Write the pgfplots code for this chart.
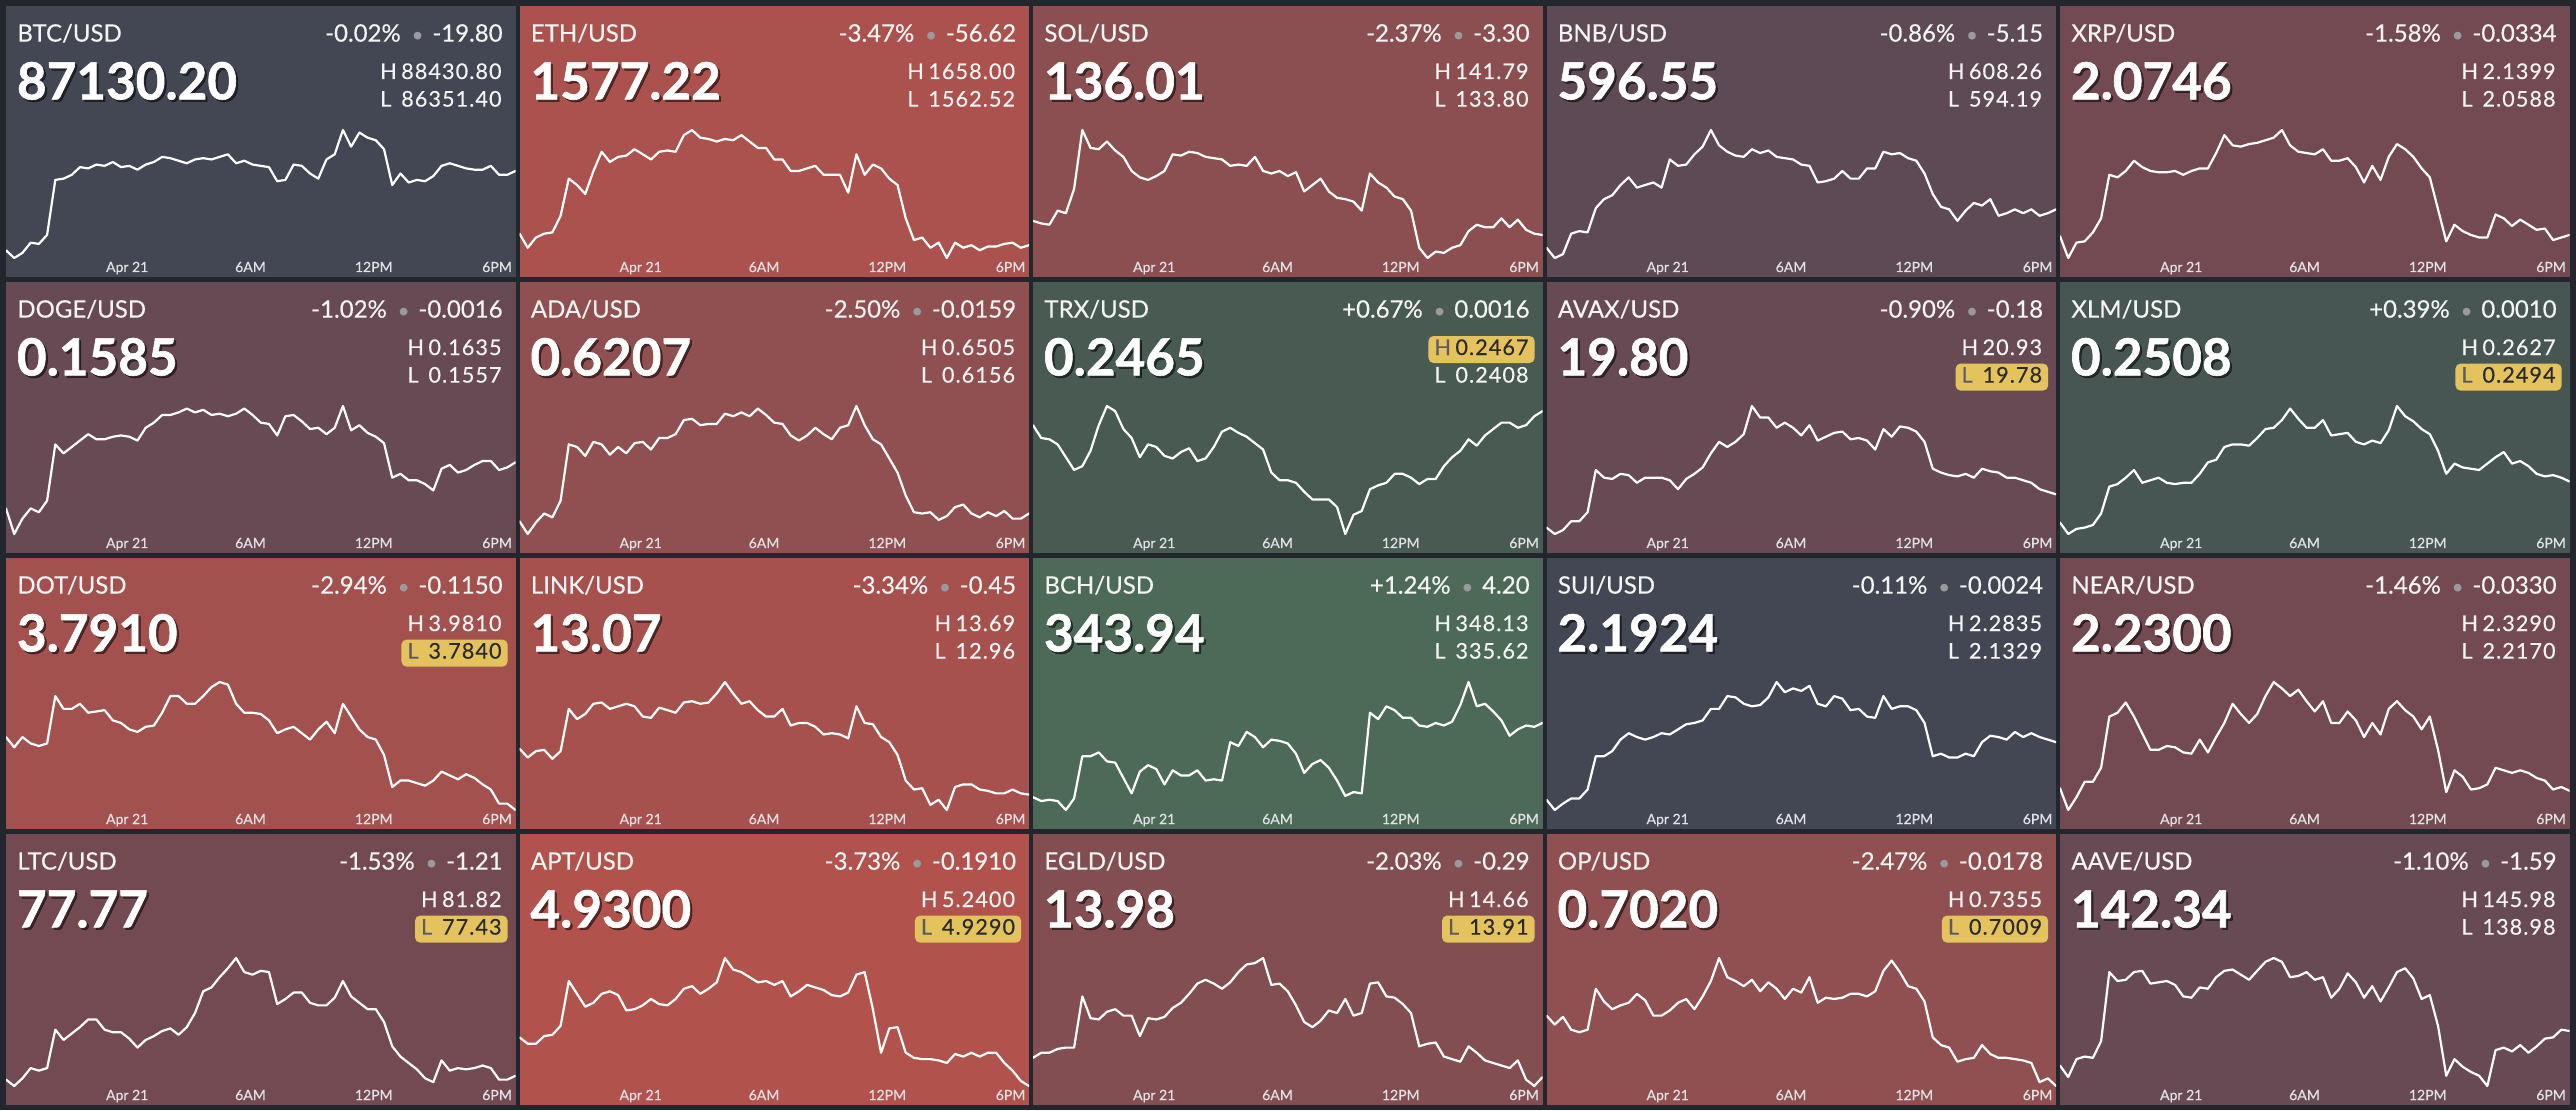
\documentclass[border=0pt]{standalone}
\usepackage{pgfplots}
\pgfplotsset{compat=1.18}
\usepackage{pgfplotstable}
\usepackage{fontspec}
\setmainfont{Lato}
\newfontfamily\latoM{Lato}[FakeBold=0.35]
\newfontfamily\latoHL{Lato}[FakeBold=0.35, LetterSpace=5]
\newfontfamily\latoB{Lato}[FakeBold=1.1]

\definecolor{pagebg}{HTML}{23262C}
\definecolor{txt}{HTML}{F4F4F4}
\definecolor{tickc}{HTML}{E2E2E6}
\definecolor{dotc}{HTML}{9A9A9E}
\definecolor{hlbg}{HTML}{E4C35E}
\definecolor{hltxt}{HTML}{2A2A2A}
\definecolor{hlletter}{HTML}{5A5A60}
\definecolor{cBTC}{HTML}{434753}
\definecolor{cETH}{HTML}{AB524E}
\definecolor{cSOL}{HTML}{8B4F51}
\definecolor{cBNB}{HTML}{5D4A55}
\definecolor{cXRP}{HTML}{744A52}
\definecolor{cDOGE}{HTML}{684A54}
\definecolor{cADA}{HTML}{904F51}
\definecolor{cTRX}{HTML}{485A52}
\definecolor{cAVAX}{HTML}{684A54}
\definecolor{cXLM}{HTML}{475652}
\definecolor{cDOT}{HTML}{A2514F}
\definecolor{cLINK}{HTML}{A6514E}
\definecolor{cBCH}{HTML}{4D6A58}
\definecolor{cSUI}{HTML}{434753}
\definecolor{cNEAR}{HTML}{744A52}
\definecolor{cLTC}{HTML}{744A52}
\definecolor{cAPT}{HTML}{B2524C}
\definecolor{cEGLD}{HTML}{824E52}
\definecolor{cOP}{HTML}{904F51}
\definecolor{cAAVE}{HTML}{684A54}

% one row per series (normalised price position, 0 = window low, 100 = window high); t = hours from Apr 21 00:00
\pgfplotstableread[header=false]{
t -5.9 -5.5 -5.1 -4.7 -4.3 -3.9 -3.5 -3.1 -2.7 -2.3 -1.9 -1.5 -1.1 -0.7 -0.3 0.1 0.5 0.9 1.3 1.7 2.1 2.5 2.9 3.3 3.7 4.1 4.5 4.9 5.3 5.7 6.1 6.5 6.9 7.3 7.7 8.1 8.5 8.9 9.3 9.7 10.1 10.5 10.9 11.3 11.7 12.1 12.5 12.9 13.3 13.7 14.1 14.5 14.9 15.3 15.7 16.1 16.5 16.9 17.3 17.7 18.1 18.5 18.9
btc 6 0 4 12 11 18 61 62 65 71 70 73 72 75 71 72 69 73 75 79 78 76 74 77 78 77 79 81 74 76 73 72 71 60 61 73 72 66 62 77 81 100 87 98 94 92 85 57 66 59 61 60 64 72 74 72 70 69 69 72 65 65 68
eth 19 8 16 19 20 33 62 57 50 68 83 75 79 80 85 81 77 83 84 83 96 100 94 93 91 93 92 96 91 86 86 77 77 68 68 70 72 65 65 65 51 81 65 73 70 62 57 31 14 16 8 12 0 12 8 10 6 9 9 11 12 8 10
sol 29 27 26 37 35 54 100 86 85 91 84 79 68 63 61 64 68 81 80 83 82 79 78 77 72 73 72 79 68 66 68 64 67 52 57 62 52 47 46 44 37 66 59 55 48 46 37 8 0 5 4 8 10 21 26 24 24 31 24 30 22 19 18
bnb 8 0 3 19 21 20 39 46 49 57 63 55 57 59 55 77 72 73 81 87 100 88 83 80 79 85 82 84 79 78 77 73 72 59 60 62 68 62 62 70 70 83 81 82 78 76 66 50 40 38 29 37 43 41 46 33 35 38 35 38 33 35 38
xrp 17 0 12 13 20 31 65 63 68 76 71 68 67 67 68 65 68 70 70 82 96 88 87 89 90 92 94 100 88 83 82 81 85 76 76 78 71 59 72 61 79 89 85 79 70 63 38 13 26 21 18 16 16 34 31 25 30 26 22 23 14 16 18
doge 20 0 12 20 17 26 70 63 68 73 78 74 74 76 77 76 73 83 87 93 93 95 98 95 97 93 94 92 94 98 93 87 86 77 92 93 88 82 83 78 83 100 81 85 79 76 71 44 47 42 42 39 34 51 54 48 50 54 57 57 50 52 56
ada 10 0 9 16 13 26 70 68 61 72 70 62 68 63 71 72 66 75 75 78 89 90 85 86 86 94 92 95 92 98 93 87 86 77 73 77 83 78 74 83 85 100 85 74 70 59 48 30 17 16 17 11 14 21 23 16 13 17 14 18 12 12 16
trx 85 75 74 70 60 50 53 65 85 100 96 82 75 60 70 68 61 59 64 67 57 59 68 80 83 79 76 71 66 48 42 42 40 33 27 27 27 21 0 15 18 35 38 40 47 47 44 39 43 43 53 60 65 74 69 77 82 87 87 83 85 92 96
avax 5 0 3 10 10 17 50 44 43 47 46 40 44 44 44 42 35 43 47 52 63 72 68 72 78 100 91 91 83 87 83 77 85 73 76 79 80 74 75 73 66 82 76 84 83 80 72 51 48 46 45 47 44 51 49 48 44 44 42 40 35 33 31
xlm 9 0 4 5 7 16 37 39 44 50 40 42 44 40 39 40 40 47 56 58 68 70 70 69 75 82 83 89 98 90 83 83 89 77 78 79 72 70 73 71 81 100 92 88 82 78 65 47 55 52 51 50 55 60 64 55 57 53 47 45 46 44 41
dot 57 49 57 52 50 52 89 79 79 83 76 77 78 70 68 63 61 65 66 76 89 89 83 83 89 96 100 98 83 76 76 75 70 60 63 65 60 55 63 69 60 83 73 63 57 55 43 18 23 23 21 19 23 30 27 24 28 25 20 16 5 5 0
link 48 41 46 47 40 46 79 71 75 83 84 79 81 83 81 73 72 80 78 76 84 85 83 84 91 100 91 83 85 78 73 73 79 66 68 68 65 59 60 59 56 81 68 67 57 53 43 23 16 17 4 8 0 18 20 20 16 15 13 13 16 13 12
bch 10 7 8 7 0 9 42 42 45 38 37 25 13 30 35 32 20 31 27 27 31 23 24 23 53 50 61 57 49 55 54 52 44 29 36 39 33 23 11 14 13 76 71 81 78 72 72 66 65 68 66 69 82 100 81 83 77 70 58 63 66 65 68
sui 8 0 5 9 9 16 42 42 46 55 60 57 55 57 60 59 63 67 68 70 79 79 89 88 83 81 82 88 100 92 95 93 97 83 81 89 87 78 79 73 72 89 79 81 81 78 68 42 44 41 41 44 42 53 58 57 55 61 57 60 57 55 53
near 17 0 10 22 22 33 73 76 84 73 60 47 47 50 49 45 44 55 45 57 68 83 75 68 75 89 100 95 89 94 85 77 85 68 68 77 70 57 68 59 79 85 78 73 63 73 47 14 31 26 16 17 20 33 31 29 31 29 25 23 16 18 15
ltc 5 0 6 14 12 14 44 36 41 46 52 52 44 42 42 37 30 36 39 43 45 40 46 57 74 77 85 92 100 89 87 90 89 64 68 73 73 65 63 63 69 82 70 65 60 60 50 31 23 18 13 6 3 20 12 14 13 14 16 14 5 5 8
apt 38 33 33 39 40 47 82 72 62 65 72 74 71 59 60 63 68 64 63 68 76 78 72 76 81 100 91 89 85 81 82 79 82 70 74 79 77 75 71 70 73 87 89 60 26 45 46 26 22 21 21 20 18 25 23 26 23 26 26 18 12 4 0
egld 22 26 26 29 30 30 70 53 52 58 60 55 55 39 53 52 54 61 65 72 80 83 80 76 81 89 95 96 100 79 80 74 63 50 46 51 59 57 68 55 57 80 81 70 69 64 57 31 33 34 23 21 19 31 26 20 18 16 14 20 5 0 7
op 55 48 54 44 42 44 76 66 60 63 65 72 67 55 55 59 65 68 60 70 82 100 85 82 78 83 74 81 76 68 76 73 85 65 69 68 69 72 72 70 74 90 98 89 78 76 66 38 32 30 19 21 22 32 25 22 22 21 20 18 3 6 0
aave 16 7 21 23 22 35 89 82 83 89 90 80 81 82 79 70 69 77 76 85 90 91 87 83 90 97 100 97 85 86 89 83 85 69 76 88 81 69 78 66 77 89 92 84 68 71 47 8 21 15 11 8 0 28 30 27 32 26 31 37 38 44 43
}\rawdata
\pgfplotstabletranspose[colnames from=0]{\data}{\rawdata}

\pgfplotsset{
  cell/.style={
    width=254.75pt, height=135.5pt, scale only axis, anchor=south west,
    xmin=-5.9, xmax=18.9, ymin=-14.84, ymax=196.875,
    axis line style={draw=none}, ytick=\empty,
    xtick={0,6,12,18}, xticklabels={Apr 21,6AM,12PM,6PM},
    major tick length=0pt, xtick style={draw=none},
    xticklabel style={font=\latoM\fontsize{7}{8}\selectfont, text=tickc, anchor=base, yshift=2.5pt, inner sep=0pt},
  },
  spark/.style={white, line width=1.1pt, line join=round, line cap=round, mark=none},
}
\tikzset{
  hlb/.style={anchor=base east, inner xsep=3pt, inner ysep=0pt, text height=9.5pt, text depth=4pt,
    font=\latoHL\fontsize{10.8}{12}\selectfont, rounded corners=2.5pt},
  plain/.style={hlb, text=txt, /utils/exec={\def\lc{txt}}},
  hl/.style={hlb, fill=hlbg, text=hltxt, /utils/exec={\def\lc{hlletter}}},
}
\newcommand\Top[4]{%
  \node[anchor=base west, font=\latoM\fontsize{12}{14}\selectfont, text=txt, inner sep=0pt]
    at ([xshift=5.5pt,yshift=-17.8pt]#1.north west) {#2};
  \node[anchor=base east, font=\latoM\fontsize{12}{14}\selectfont, text=txt, inner sep=0pt]
    at ([xshift=248.5pt,yshift=-17.8pt]#1.north west)
    {#3\hspace{5.5pt}{\fontsize{10}{10}\selectfont\textcolor{dotc}{\textbullet}}\hspace{4.5pt}#4};
}
\newcommand\Price[2]{%
  \node[anchor=base west, font=\latoB\fontsize{25.6}{28}\selectfont\bfseries, text=black, text opacity=0.5, inner sep=0pt]
    at ([xshift=6.4pt,yshift=-47.8pt]#1.north west) {#2};
  \node[anchor=base west, font=\latoB\fontsize{25.6}{28}\selectfont\bfseries, text=white, inner sep=0pt]
    at ([xshift=5.3pt,yshift=-46.7pt]#1.north west) {#2};
}
\newcommand\HL[5]{% name, H value, H style, L value, L style
  \node[#3] at ([xshift=251pt,yshift=-36.5pt]#1.north west) {\makebox[10.5pt][l]{\textcolor{\lc}{H}}#2};
  \node[#5] at ([xshift=251pt,yshift=-50.3pt]#1.north west) {\makebox[10.5pt][l]{\textcolor{\lc}{L}}#4};
}

\begin{document}
\begin{tikzpicture}
\fill[pagebg] (0pt,0pt) rectangle (1288pt,555pt);

% ---------- row 1 ----------
\begin{axis}[cell, name=p1, at={(3pt,416.5pt)}, axis background/.style={fill=cBTC}]
\addplot[spark] table[x=t, y=btc] {\data};
\end{axis}
\Top{p1}{BTC/USD}{-0.02\%}{-19.80}\Price{p1}{87130.20}\HL{p1}{88430.80}{plain}{86351.40}{plain}

\begin{axis}[cell, name=p2, at={(259.75pt,416.5pt)}, axis background/.style={fill=cETH}]
\addplot[spark] table[x=t, y=eth] {\data};
\end{axis}
\Top{p2}{ETH/USD}{-3.47\%}{-56.62}\Price{p2}{1577.22}\HL{p2}{1658.00}{plain}{1562.52}{plain}

\begin{axis}[cell, name=p3, at={(516.5pt,416.5pt)}, axis background/.style={fill=cSOL}]
\addplot[spark] table[x=t, y=sol] {\data};
\end{axis}
\Top{p3}{SOL/USD}{-2.37\%}{-3.30}\Price{p3}{136.01}\HL{p3}{141.79}{plain}{133.80}{plain}

\begin{axis}[cell, name=p4, at={(773.25pt,416.5pt)}, axis background/.style={fill=cBNB}]
\addplot[spark] table[x=t, y=bnb] {\data};
\end{axis}
\Top{p4}{BNB/USD}{-0.86\%}{-5.15}\Price{p4}{596.55}\HL{p4}{608.26}{plain}{594.19}{plain}

\begin{axis}[cell, name=p5, at={(1030pt,416.5pt)}, axis background/.style={fill=cXRP}]
\addplot[spark] table[x=t, y=xrp] {\data};
\end{axis}
\Top{p5}{XRP/USD}{-1.58\%}{-0.0334}\Price{p5}{2.0746}\HL{p5}{2.1399}{plain}{2.0588}{plain}

% ---------- row 2 ----------
\begin{axis}[cell, name=p6, at={(3pt,278.5pt)}, axis background/.style={fill=cDOGE}]
\addplot[spark] table[x=t, y=doge] {\data};
\end{axis}
\Top{p6}{DOGE/USD}{-1.02\%}{-0.0016}\Price{p6}{0.1585}\HL{p6}{0.1635}{plain}{0.1557}{plain}

\begin{axis}[cell, name=p7, at={(259.75pt,278.5pt)}, axis background/.style={fill=cADA}]
\addplot[spark] table[x=t, y=ada] {\data};
\end{axis}
\Top{p7}{ADA/USD}{-2.50\%}{-0.0159}\Price{p7}{0.6207}\HL{p7}{0.6505}{plain}{0.6156}{plain}

\begin{axis}[cell, name=p8, at={(516.5pt,278.5pt)}, axis background/.style={fill=cTRX}]
\addplot[spark] table[x=t, y=trx] {\data};
\end{axis}
\Top{p8}{TRX/USD}{+0.67\%}{0.0016}\Price{p8}{0.2465}\HL{p8}{0.2467}{hl}{0.2408}{plain}

\begin{axis}[cell, name=p9, at={(773.25pt,278.5pt)}, axis background/.style={fill=cAVAX}]
\addplot[spark] table[x=t, y=avax] {\data};
\end{axis}
\Top{p9}{AVAX/USD}{-0.90\%}{-0.18}\Price{p9}{19.80}\HL{p9}{20.93}{plain}{19.78}{hl}

\begin{axis}[cell, name=p10, at={(1030pt,278.5pt)}, axis background/.style={fill=cXLM}]
\addplot[spark] table[x=t, y=xlm] {\data};
\end{axis}
\Top{p10}{XLM/USD}{+0.39\%}{0.0010}\Price{p10}{0.2508}\HL{p10}{0.2627}{plain}{0.2494}{hl}

% ---------- row 3 ----------
\begin{axis}[cell, name=p11, at={(3pt,140.5pt)}, axis background/.style={fill=cDOT}]
\addplot[spark] table[x=t, y=dot] {\data};
\end{axis}
\Top{p11}{DOT/USD}{-2.94\%}{-0.1150}\Price{p11}{3.7910}\HL{p11}{3.9810}{plain}{3.7840}{hl}

\begin{axis}[cell, name=p12, at={(259.75pt,140.5pt)}, axis background/.style={fill=cLINK}]
\addplot[spark] table[x=t, y=link] {\data};
\end{axis}
\Top{p12}{LINK/USD}{-3.34\%}{-0.45}\Price{p12}{13.07}\HL{p12}{13.69}{plain}{12.96}{plain}

\begin{axis}[cell, name=p13, at={(516.5pt,140.5pt)}, axis background/.style={fill=cBCH}]
\addplot[spark] table[x=t, y=bch] {\data};
\end{axis}
\Top{p13}{BCH/USD}{+1.24\%}{4.20}\Price{p13}{343.94}\HL{p13}{348.13}{plain}{335.62}{plain}

\begin{axis}[cell, name=p14, at={(773.25pt,140.5pt)}, axis background/.style={fill=cSUI}]
\addplot[spark] table[x=t, y=sui] {\data};
\end{axis}
\Top{p14}{SUI/USD}{-0.11\%}{-0.0024}\Price{p14}{2.1924}\HL{p14}{2.2835}{plain}{2.1329}{plain}

\begin{axis}[cell, name=p15, at={(1030pt,140.5pt)}, axis background/.style={fill=cNEAR}]
\addplot[spark] table[x=t, y=near] {\data};
\end{axis}
\Top{p15}{NEAR/USD}{-1.46\%}{-0.0330}\Price{p15}{2.2300}\HL{p15}{2.3290}{plain}{2.2170}{plain}

% ---------- row 4 ----------
\begin{axis}[cell, name=p16, at={(3pt,2.5pt)}, axis background/.style={fill=cLTC}]
\addplot[spark] table[x=t, y=ltc] {\data};
\end{axis}
\Top{p16}{LTC/USD}{-1.53\%}{-1.21}\Price{p16}{77.77}\HL{p16}{81.82}{plain}{77.43}{hl}

\begin{axis}[cell, name=p17, at={(259.75pt,2.5pt)}, axis background/.style={fill=cAPT}]
\addplot[spark] table[x=t, y=apt] {\data};
\end{axis}
\Top{p17}{APT/USD}{-3.73\%}{-0.1910}\Price{p17}{4.9300}\HL{p17}{5.2400}{plain}{4.9290}{hl}

\begin{axis}[cell, name=p18, at={(516.5pt,2.5pt)}, axis background/.style={fill=cEGLD}]
\addplot[spark] table[x=t, y=egld] {\data};
\end{axis}
\Top{p18}{EGLD/USD}{-2.03\%}{-0.29}\Price{p18}{13.98}\HL{p18}{14.66}{plain}{13.91}{hl}

\begin{axis}[cell, name=p19, at={(773.25pt,2.5pt)}, axis background/.style={fill=cOP}]
\addplot[spark] table[x=t, y=op] {\data};
\end{axis}
\Top{p19}{OP/USD}{-2.47\%}{-0.0178}\Price{p19}{0.7020}\HL{p19}{0.7355}{plain}{0.7009}{hl}

\begin{axis}[cell, name=p20, at={(1030pt,2.5pt)}, axis background/.style={fill=cAAVE}]
\addplot[spark] table[x=t, y=aave] {\data};
\end{axis}
\Top{p20}{AAVE/USD}{-1.10\%}{-1.59}\Price{p20}{142.34}\HL{p20}{145.98}{plain}{138.98}{plain}

\pgfresetboundingbox
\useasboundingbox (0pt,0pt) rectangle (1288pt,555pt);
\end{tikzpicture}
\end{document}
